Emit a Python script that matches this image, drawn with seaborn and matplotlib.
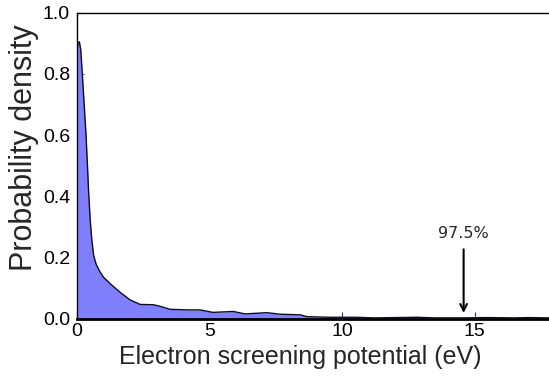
import matplotlib
matplotlib.use("Agg")
import matplotlib.pyplot as plt
import seaborn as sns
import pandas as pd

# Data
potential = [0.0, 0.05, 0.09, 0.14, 0.20, 0.27, 0.34, 0.40, 0.44, 0.50, 0.56, 0.63,
             0.72, 0.85, 1.0, 1.25, 1.62, 2.0, 2.38, 2.88, 3.13, 3.51, 4.26, 4.64,
             5.13, 5.89, 6.34, 7.16, 7.66, 8.42, 8.67, 9.5, 10.5, 11.2, 12.0, 12.8,
             13.5, 14.5, 15.5, 16.5, 17.0, 17.8]
density = [0.88, 0.90, 0.905, 0.88, 0.80, 0.70, 0.60, 0.49, 0.41, 0.32, 0.255, 0.205,
           0.178, 0.155, 0.135, 0.114, 0.086, 0.061, 0.046, 0.045, 0.040, 0.030, 0.028, 0.028,
           0.020, 0.023, 0.015, 0.019, 0.014, 0.012, 0.006, 0.004, 0.004, 0.002, 0.003, 0.004,
           0.002, 0.002, 0.003, 0.002, 0.003, 0.002]
x_ticks = [0, 5, 10, 15]
y_ticks = [0.0, 0.2, 0.4, 0.6, 0.8, 1.0]
y_tick_labels = ["0.0", "0.2", "0.4", "0.6", "0.8", "1.0"]
annot_label = "97.5%"
annot_x = 14.58

df = pd.DataFrame({"potential": potential, "density": density})

sns.set_style("white")
plt.rcParams["font.family"] = ["Liberation Sans", "DejaVu Sans"]

fig = plt.figure(figsize=(5.49, 3.81), dpi=100)
ax = fig.add_axes([77 / 549, 1 - 318.5 / 381, 1 - 77 / 549, (318.5 - 12.7) / 381])

ax.fill_between(df["potential"], df["density"], 0, color="#8080ff", linewidth=0, zorder=1)
sns.lineplot(data=df, x="potential", y="density", ax=ax, color="#0c0c22", linewidth=1.0, zorder=2)

ax.set_xlim(0, 17.8)
ax.set_ylim(0, 1.0)
ax.set_xticks(x_ticks)
ax.set_yticks(y_ticks)
ax.set_yticklabels(y_tick_labels)
ax.tick_params(direction="in", length=5, width=0.8, labelsize=14, color="#333355",
               top=False, right=False, left=True, bottom=True, labelcolor="black")
ax.tick_params(axis="y", pad=5)
ax.tick_params(axis="x", pad=3)

for side in ["left", "top"]:
    ax.spines[side].set_color("black")
    ax.spines[side].set_linewidth(1.0)
ax.spines["bottom"].set_color("black")
ax.spines["bottom"].set_linewidth(2.0)
ax.spines["right"].set_visible(False)

ax.set_xlabel("Electron screening potential (eV)", fontsize=18, labelpad=4)
ax.set_ylabel("Probability density", fontsize=22, labelpad=3)
ax.xaxis.label.set_x(0.472)
ax.yaxis.label.set_y(0.557)

ax.annotate(annot_label, xy=(annot_x, 0.018), xytext=(annot_x, 0.255),
            ha="center", va="bottom", fontsize=11.5, family="DejaVu Sans",
            arrowprops=dict(arrowstyle="->", color="black", lw=1.5, shrinkA=4, shrinkB=0,
                            mutation_scale=12))

fig.savefig("out.png", dpi=100)
